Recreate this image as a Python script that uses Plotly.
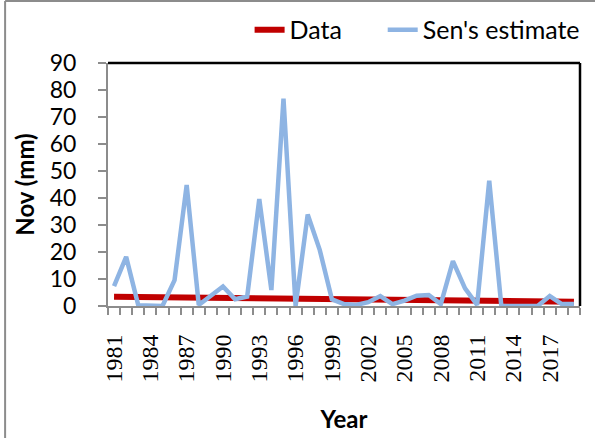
import plotly.graph_objects as go

# November rainfall series with trend
years = list(range(1981, 2020))
sens_estimate = [7.4, 18.2, 0.3, 0, 0, 9.6, 44.8, 0.4, 3.7, 7.2,
                 2.5, 3.5, 39.6, 5.9, 76.8, 0, 33.9, 20.7, 2.5, 0.7,
                 0.4, 1.4, 3.7, 0.7, 2.0, 3.8, 4.1, 0.7, 16.6, 6.5,
                 0.4, 46.4, 0, 0, 0, 0, 3.7, 0.7, 0.7]
data_line = [3.45, 3.40, 3.35, 3.30, 3.25, 3.21, 3.16, 3.11, 3.06, 3.01,
             2.96, 2.91, 2.86, 2.82, 2.77, 2.72, 2.67, 2.62, 2.57, 2.52,
             2.47, 2.42, 2.38, 2.33, 2.28, 2.23, 2.18, 2.13, 2.08, 2.03,
             1.99, 1.94, 1.89, 1.84, 1.79, 1.74, 1.69, 1.64, 1.60]
year_labels = [str(y) for y in range(1981, 2018, 3)]

fig = go.Figure()
fig.add_trace(go.Scatter(x=years, y=data_line, mode='lines', name='Data',
                         line=dict(color='#C00000', width=6), legend='legend'))
fig.add_trace(go.Scatter(x=years, y=sens_estimate, mode='lines', name="Sen's estimate",
                         line=dict(color='#8EB4E3', width=4.5), legend='legend2'))

legend_style = dict(orientation='h', xanchor='left', y=1.136, yanchor='middle',
                    font=dict(family='Lato', size=25), bgcolor='rgba(0,0,0,0)')

fig.update_layout(
    width=595, height=438,
    margin=dict(l=108, r=15, t=63, b=132, autoexpand=False),
    paper_bgcolor='white', plot_bgcolor='white',
    font=dict(family='Lato', size=24, color='black'),
    showlegend=True,
    legend=dict(x=0.30, **legend_style),
    legend2=dict(x=0.582, **legend_style),
    xaxis=dict(
        range=[1980.5, 2019.5],
        automargin=False,
        tickmode='array',
        tickvals=[int(t) for t in year_labels],
        ticktext=year_labels,
        tickangle=-90,
        tickfont=dict(family='Liberation Serif', size=24),
        ticks='outside', ticklen=8, tickcolor='rgba(0,0,0,0)',
        ticklabelstandoff=9,
        minor=dict(ticks='outside', tick0=1980.5, dtick=1, ticklen=7,
                   tickcolor='#8c8c8c', tickwidth=1.5),
        showline=True, linecolor='#8c8c8c', linewidth=2,
        showgrid=False, zeroline=False,
        title=dict(text='<b>Year</b>', font=dict(family='Lato', size=24), standoff=30),
    ),
    yaxis=dict(
        range=[0, 90], dtick=10,
        automargin=False,
        ticks='outside', ticklen=8, tickcolor='#8c8c8c', tickwidth=1.5,
        ticklabelstandoff=17,
        showline=True, linecolor='#8c8c8c', linewidth=2,
        showgrid=False, zeroline=False,
        tickfont=dict(family='Lato', size=23),
        title=dict(text='<b>Nov (mm)</b>', font=dict(family='Lato', size=24), standoff=8),
    ),
    shapes=[
        # plot area frame top and right
        dict(type='line', xref='paper', yref='paper', x0=0, x1=1, y0=1, y1=1,
             line=dict(color='black', width=2.5)),
        dict(type='line', xref='paper', yref='paper', x0=1, x1=1, y0=0, y1=1,
             line=dict(color='black', width=2.5)),
        # outer chart border
        dict(type='line', xref='paper', yref='paper', x0=-0.218, x1=-0.218, y0=-0.6, y1=1.255,
             line=dict(color='#8c8c8c', width=2)),
        dict(type='line', xref='paper', yref='paper', x0=-0.218, x1=1.1, y0=1.255, y1=1.255,
             line=dict(color='#8c8c8c', width=2)),
    ],
)

# drop the page's default body margin so the figure sits at the corner
fig.write_html("out.html", config={'displayModeBar': False},
               post_script="document.body.style.margin='0px';")
